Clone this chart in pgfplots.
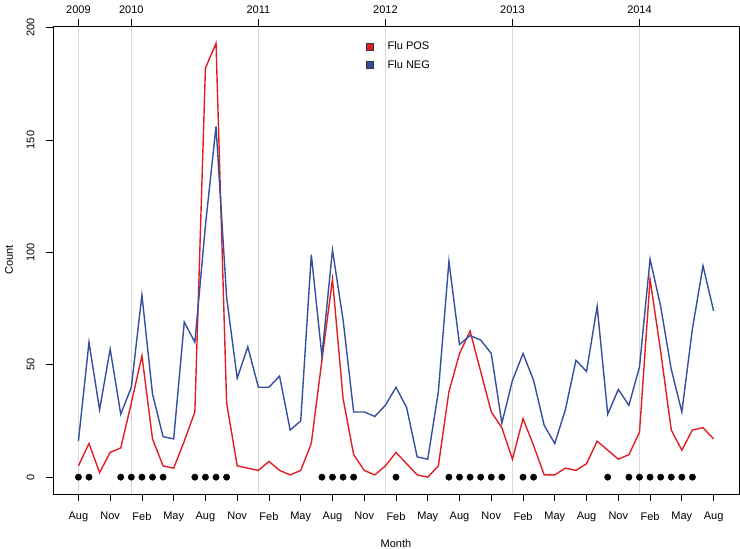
\documentclass[border=0pt]{standalone}
\usepackage{fontspec}
\setmainfont{Liberation Sans}
\usepackage{pgfplots}
\pgfplotsset{compat=1.18}
\usepackage{pgfplotstable}
\definecolor{fluRed}{RGB}{226,30,36}
\definecolor{fluBlue}{RGB}{55,78,158}
\definecolor{yrGray}{RGB}{218,218,218}
\pgfplotstableread{
i pos neg
0 5 16
1 15 60
2 2 30
3 11 57
4 13 28
5 33 40
6 54 81
7 17 37
8 5 18
9 4 17
10 16 69
11 29 60
12 182 112
13 193 156
14 33 80
15 5 44
16 4 58
17 3 40
18 7 40
19 3 45
20 1 21
21 3 25
22 15 99
23 52 54
24 88 101
25 35 70
26 10 29
27 3 29
28 1 27
29 5 32
30 11 40
31 6 31
32 1 9
33 0 8
34 5 38
35 38 96
36 55 59
37 65 63
38 47 61
39 29 55
40 22 24
41 8 43
42 26 55
43 14 43
44 1 23
45 1 15
46 4 30
47 3 52
48 6 47
49 16 76
50 12 28
51 8 39
52 10 32
53 20 49
54 88 97
55 56 76
56 21 48
57 12 29
58 21 66
59 22 94
60 17 74
}\flu
\pgfplotstableread{
i y
0 0
1 0
4 0
5 0
6 0
7 0
8 0
11 0
12 0
13 0
14 0
23 0
24 0
25 0
26 0
30 0
35 0
36 0
37 0
38 0
39 0
40 0
42 0
43 0
50 0
52 0
53 0
54 0
55 0
56 0
57 0
58 0
}\dots
\begin{document}
\begin{tikzpicture}[font=\fontsize{11}{13}\selectfont]
\useasboundingbox (0,0) rectangle (740pt,549pt);
% top axis with year lines
\begin{axis}[
  at={(53pt,54.5pt)}, anchor=south west,
  scale only axis, width=686pt, height=468.5pt,
  xmin=-2.4, xmax=62.4, ymin=-7.72, ymax=200.72,
  axis x line*=top, axis y line=none,
  xtick={0,5,17,29,41,53},
  xticklabels={2009,2010,2011,2012,2013,2014},
  tick align=outside, major tick length=7pt,
  xmajorgrids, grid style={yrGray, line width=1.2pt},
  x axis line style={draw=none},
  xticklabel style={anchor=south, yshift=1.5pt},
  every tick/.style={black, line width=0.8pt},
]
\addplot[draw=none] coordinates {(0,0) (60,0)};
\end{axis}
\begin{axis}[
  at={(53pt,54.5pt)}, anchor=south west,
  scale only axis, width=686pt, height=468.5pt,
  xmin=-2.4, xmax=62.4, ymin=-7.72, ymax=200.72,
  xtick={0,3,...,60},
  xticklabels={Aug,Nov,Feb,May,Aug,Nov,Feb,May,Aug,Nov,Feb,May,Aug,Nov,Feb,May,Aug,Nov,Feb,May,Aug},
  ytick={0,50,100,150,200},
  xtick pos=lower, ytick pos=left,
  tick align=outside, major tick length=7pt,
  every tick/.style={black, line width=0.8pt},
  axis line style={line width=0.8pt},
  /pgf/number format/assume math mode=true,
  yticklabel style={rotate=90, anchor=south, yshift=8pt},
  xticklabel style={anchor=north, yshift=-7pt},
  xlabel={Month}, ylabel={Count},
  xlabel style={at={(axis description cs:0.5,0)}, anchor=center, yshift=-49.5pt},
  ylabel style={at={(axis description cs:0,0.5)}, anchor=center, rotate=0, yshift=44pt, xshift=0pt},
  legend style={at={(0.452,0.975)}, anchor=north west, draw=none, fill=none,
    row sep=5pt, font=\fontsize{11}{13}\selectfont},
  legend cell align=left,
]
\addplot[fluRed, line width=1.4pt, forget plot] table[x=i, y=pos] {\flu};
\addplot[fluBlue, line width=1.4pt, forget plot] table[x=i, y=neg] {\flu};
\addplot[only marks, mark=*, mark size=3.2pt, black, forget plot] table[x=i, y=y] {\dots};
\addlegendimage{legend image code/.code={\draw[fill=fluRed, draw=black!80, line width=0.5pt] (0pt,-3.6pt) rectangle (7.2pt,3.6pt); \path (19pt,0pt);}}
\addlegendentry{Flu POS}
\addlegendimage{legend image code/.code={\draw[fill=fluBlue, draw=black!80, line width=0.5pt] (0pt,-3.6pt) rectangle (7.2pt,3.6pt); \path (19pt,0pt);}}
\addlegendentry{Flu NEG}
\end{axis}
\end{tikzpicture}
\end{document}
